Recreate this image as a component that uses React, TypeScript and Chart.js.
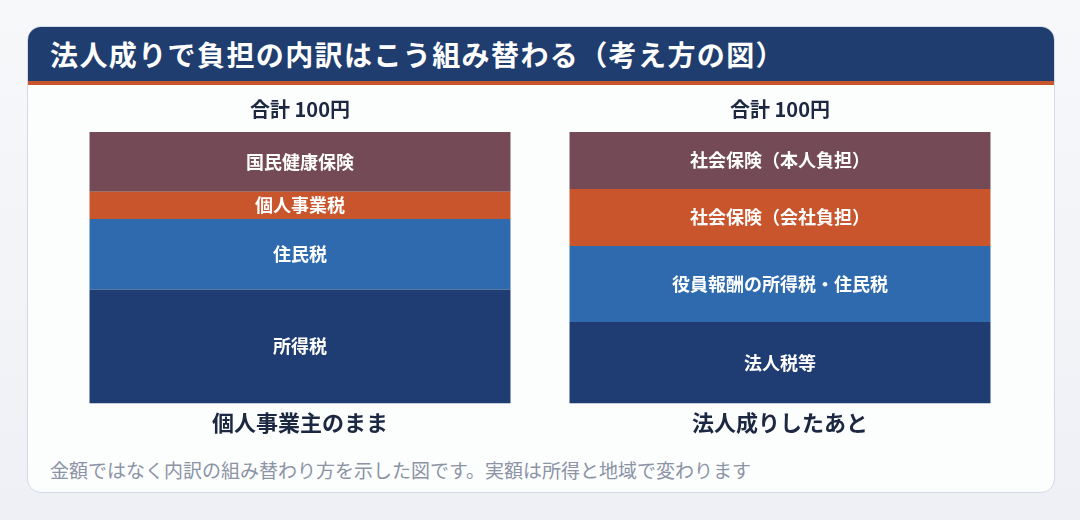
import React, { useEffect, useRef } from "react";
import { Chart, registerables } from "chart.js";

Chart.register(...registerables);

const categories = ["個人事業主のまま", "法人成りしたあと"];
const totalLabels = ["合計 100円", "合計 100円"];

// stack levels, bottom to top
const bottomValues = [42, 30];
const secondValues = [26, 28];
const thirdValues = [10, 21];
const topValues = [22, 21];

const bottomNames = ["所得税", "法人税等"];
const secondNames = ["住民税", "役員報酬の所得税・住民税"];
const thirdNames = ["個人事業税", "社会保険（会社負担）"];
const topNames = ["国民健康保険", "社会保険（本人負担）"];

const FONT = "'Noto Sans CJK JP', 'Noto Sans', sans-serif";

const segmentLabelPlugin = {
  id: "segmentLabels",
  afterDatasetsDraw(chart: any) {
    const ctx = chart.ctx;
    const names = [bottomNames, secondNames, thirdNames, topNames];
    ctx.save();
    ctx.fillStyle = "#ffffff";
    ctx.font = `bold 18px ${FONT}`;
    ctx.textAlign = "center";
    ctx.textBaseline = "middle";
    chart.data.datasets.forEach((_: any, di: number) => {
      const meta = chart.getDatasetMeta(di);
      meta.data.forEach((el: any, i: number) => {
        const p = el.getProps(["x", "y", "base"], true);
        ctx.fillText(names[di][i], p.x, (p.y + p.base) / 2);
      });
    });
    ctx.restore();
  },
};

export default function App() {
  const ref = useRef<HTMLCanvasElement>(null);
  useEffect(() => {
    document.body.style.margin = "0";
    const mk = (label: string, data: number[], color: string) => ({
      label,
      data,
      backgroundColor: color,
      borderWidth: 0,
      barPercentage: 0.877,
      categoryPercentage: 1,
    });
    const chart = new Chart(ref.current!, {
      type: "bar",
      data: {
        labels: categories,
        datasets: [
          mk("bottom", bottomValues, "#1f3d72"),
          mk("second", secondValues, "#2e6aad"),
          mk("third", thirdValues, "#c9552c"),
          mk("top", topValues, "#734a55"),
        ],
      },
      options: {
        animation: false,
        responsive: false,
        layout: { padding: { left: 60, right: 60, top: 6, bottom: 6 } },
        plugins: { legend: { display: false }, tooltip: { enabled: false } },
        scales: {
          x: {
            stacked: true,
            grid: { display: false, drawTicks: false },
            border: { display: false },
            ticks: {
              color: "#1c2741",
              font: { family: FONT, size: 22, weight: "bold" },
              padding: 6,
            },
          },
          xTop: {
            type: "category",
            position: "top",
            labels: totalLabels,
            grid: { display: false, drawTicks: false },
            border: { display: false },
            ticks: {
              color: "#1c2741",
              font: { family: FONT, size: 20, weight: "bold" },
              padding: 11,
            },
          },
          y: {
            stacked: true,
            min: 0,
            max: 100,
            display: false,
          },
        },
      },
      plugins: [segmentLabelPlugin],
    });
    return () => chart.destroy();
  }, []);

  return (
    <div
      style={{
        position: "fixed",
        inset: 0,
        width: 1080,
        height: 520,
        background: "linear-gradient(#f7f8fa, #eff0f5)",
        fontFamily: FONT,
      }}
    >
      <div
        style={{
          position: "absolute",
          left: 27,
          top: 26,
          width: 1028,
          height: 467,
          boxSizing: "border-box",
          border: "1px solid #d3d9e6",
          borderRadius: 14,
          background: "#fcfdfd",
          overflow: "hidden",
        }}
      >
        <div
          style={{
            height: 54,
            background: "#1f3d6e",
            borderBottom: "4px solid #c9552c",
            color: "#ffffff",
            fontWeight: "bold",
            fontSize: 28,
            letterSpacing: 1.4,
            lineHeight: "54px",
            paddingLeft: 22,
          }}
        >
          法人成りで負担の内訳はこう組み替わる（考え方の図）
        </div>
        <div
          style={{
            position: "absolute",
            left: 22,
            top: 431,
            fontSize: 19,
            color: "#8b93a5",
            lineHeight: "24px",
          }}
        >
          金額ではなく内訳の組み替わり方を示した図です。実額は所得と地域で変わります
        </div>
      </div>
      <canvas
        ref={ref}
        width={1080}
        height={368}
        style={{ position: "absolute", left: 0, top: 80, width: 1080, height: 368 }}
      />
    </div>
  );
}
